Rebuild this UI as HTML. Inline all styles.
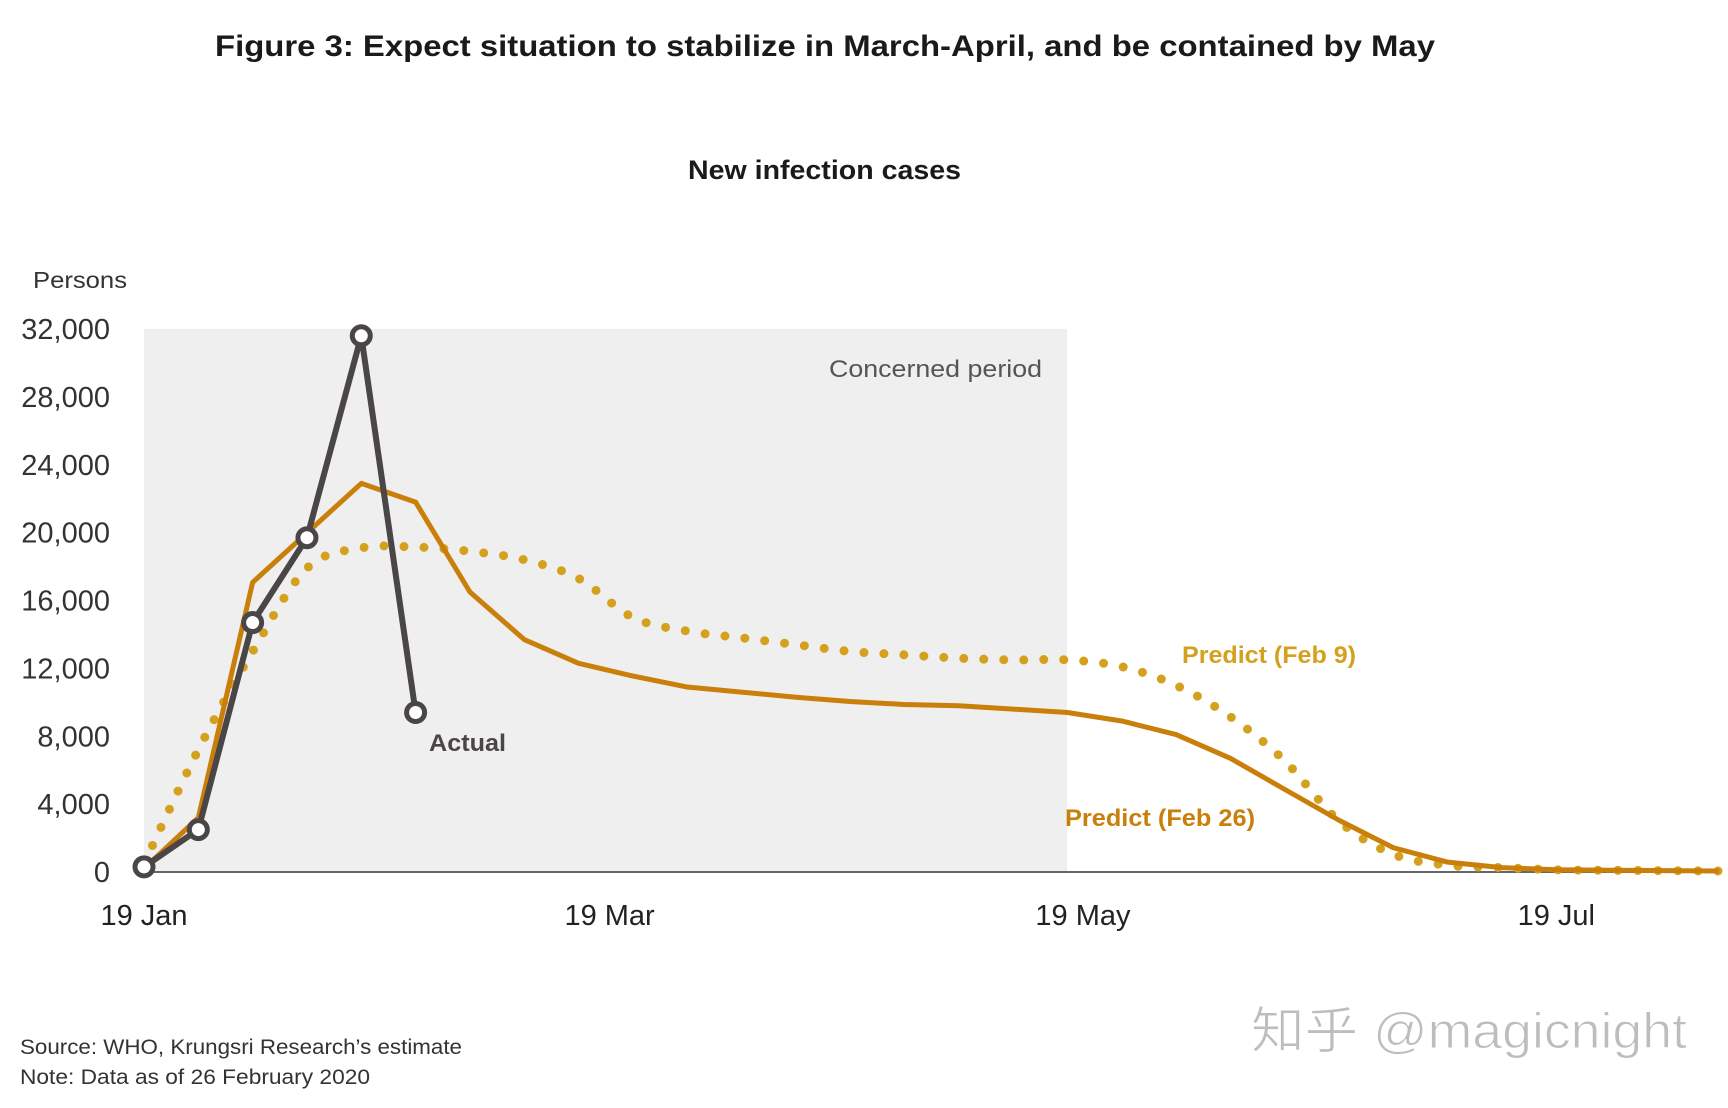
<!DOCTYPE html>
<html><head><meta charset="utf-8"><style>
html,body{margin:0;padding:0;background:#fff;}
svg{display:block;font-family:"Liberation Sans","Noto Sans CJK SC",sans-serif;}
</style></head><body>
<svg id="chart" width="1728" height="1108" viewBox="0 0 1728 1108">
<text x="215" y="56" font-size="30" font-weight="bold" fill="#1a1a1a" textLength="1220" lengthAdjust="spacingAndGlyphs">Figure 3: Expect situation to stabilize in March-April, and be contained by May</text>
<text x="688" y="179" font-size="27" font-weight="bold" fill="#1a1a1a" textLength="273" lengthAdjust="spacingAndGlyphs">New infection cases</text>
<text x="33" y="288" font-size="23" fill="#333" textLength="94" lengthAdjust="spacingAndGlyphs">Persons</text>
<rect x="144" y="329" width="923" height="543" fill="#efefef"/>
<text x="1042" y="377" font-size="24" fill="#555" text-anchor="end" textLength="213" lengthAdjust="spacingAndGlyphs">Concerned period</text>
<g id="yticks"></g><g id="xticks"></g>
<line x1="144" y1="872" x2="1720" y2="872" stroke="#666" stroke-width="2"/>
<g id="series"></g>
<text x="429" y="751" font-size="24" font-weight="bold" fill="#4a4546" textLength="77" lengthAdjust="spacingAndGlyphs">Actual</text>
<text x="1182" y="663" font-size="24" font-weight="bold" fill="#d4a11e" textLength="174" lengthAdjust="spacingAndGlyphs">Predict (Feb 9)</text>
<text x="1065" y="826" font-size="24" font-weight="bold" fill="#c97f0a" textLength="190" lengthAdjust="spacingAndGlyphs">Predict (Feb 26)</text>
<text x="20" y="1054" font-size="21" fill="#333" textLength="442" lengthAdjust="spacingAndGlyphs">Source: WHO, Krungsri Research’s estimate</text>
<text x="20" y="1084" font-size="21" fill="#333" textLength="350" lengthAdjust="spacingAndGlyphs">Note: Data as of 26 February 2020</text>
<text x="1251" y="1048" font-size="50" fill="#bdbdbd" stroke="#fff" stroke-width="1" textLength="436" lengthAdjust="spacingAndGlyphs">知乎 @magicnight</text>
</svg>
<script>
const yTicks=[0,4000,8000,12000,16000,20000,24000,28000,32000];
const yTickLabels=["0","4,000","8,000","12,000","16,000","20,000","24,000","28,000","32,000"];
const xTickDays=[0,60,121,182];
const xTickLabels=["19 Jan","19 Mar","19 May","19 Jul"];
const actualDays=[0,7,14,21,28,35];
const actualValues=[300,2500,14700,19700,31600,9400];
const feb26Days=[0,7,14,28,35,42,49,56,63,70,77,84,91,98,105,112,119,126,133,140,147,154,161,168,175,182,189,196,203];
const feb26Values=[200,3200,17070,22900,21800,16500,13700,12300,11550,10900,10600,10300,10050,9870,9800,9600,9400,8900,8100,6700,4870,3050,1430,580,260,130,100,80,60];
const feb9Days=[0,7,14,21,28,35,42,49,56,63,70,77,84,91,98,105,112,119,126,133,140,147,154,161,168,175,182,189,196,203];
const feb9Values=[500,7200,13000,17900,19100,19150,18900,18400,17300,15000,14200,13800,13400,13000,12800,12600,12500,12500,12100,11000,9150,6550,3000,1040,400,260,130,100,80,60];
const NS='http://www.w3.org/2000/svg';
const X0=144,PXD=7.76,Y0=872,YTOP=329,YMAX=32000;
function xs(d){return X0+d*PXD;}
function ys(v){return Y0-(Y0-YTOP)*v/YMAX;}
function mk(t,a,p){const e=document.createElementNS(NS,t);for(const k in a)e.setAttribute(k,a[k]);p.appendChild(e);return e;}
const yg=document.getElementById('yticks');
yTicks.forEach((v,i)=>{const t=mk('text',{x:110,y:ys(v)+10,'font-size':29,fill:'#333','text-anchor':'end'},yg);t.textContent=yTickLabels[i];

});
const xg=document.getElementById('xticks');
xTickDays.forEach((d,i)=>{const t=mk('text',{x:xs(d),y:925,'font-size':29,fill:'#222','text-anchor':'middle'},xg);t.textContent=xTickLabels[i];

});
const sg=document.getElementById('series');
function smooth(pts){let d='M'+pts[0][0]+','+pts[0][1];for(let i=0;i<pts.length-1;i++){const p0=pts[i-1]||pts[i],p1=pts[i],p2=pts[i+1],p3=pts[i+2]||p2;
d+=' C'+(p1[0]+(p2[0]-p0[0])/6)+','+(p1[1]+(p2[1]-p0[1])/6)+' '+(p2[0]-(p3[0]-p1[0])/6)+','+(p2[1]-(p3[1]-p1[1])/6)+' '+p2[0]+','+p2[1];}return d;}
const p9=feb9Days.map((d,i)=>[xs(d),ys(feb9Values[i])]);
const l9=mk('path',{d:smooth(p9),fill:'none',stroke:'#d4a11e','stroke-width':9,'stroke-linecap':'round','stroke-dasharray':'0 20'},sg);


const p26=feb26Days.map((d,i)=>xs(d)+','+ys(feb26Values[i])).join(' ');
const l26=mk('polyline',{points:p26,fill:'none',stroke:'#c97f0a','stroke-width':5,'stroke-linejoin':'round'},sg);


const pa=actualDays.map((d,i)=>xs(d)+','+ys(actualValues[i])).join(' ');
const la=mk('polyline',{points:pa,fill:'none',stroke:'#4a4546','stroke-width':6,'stroke-linejoin':'round'},sg);


actualDays.forEach((d,i)=>{const c=mk('circle',{cx:xs(d),cy:ys(actualValues[i]),r:9,fill:'#fff',stroke:'#4a4546','stroke-width':5},sg);

});
</script>
</body></html>
